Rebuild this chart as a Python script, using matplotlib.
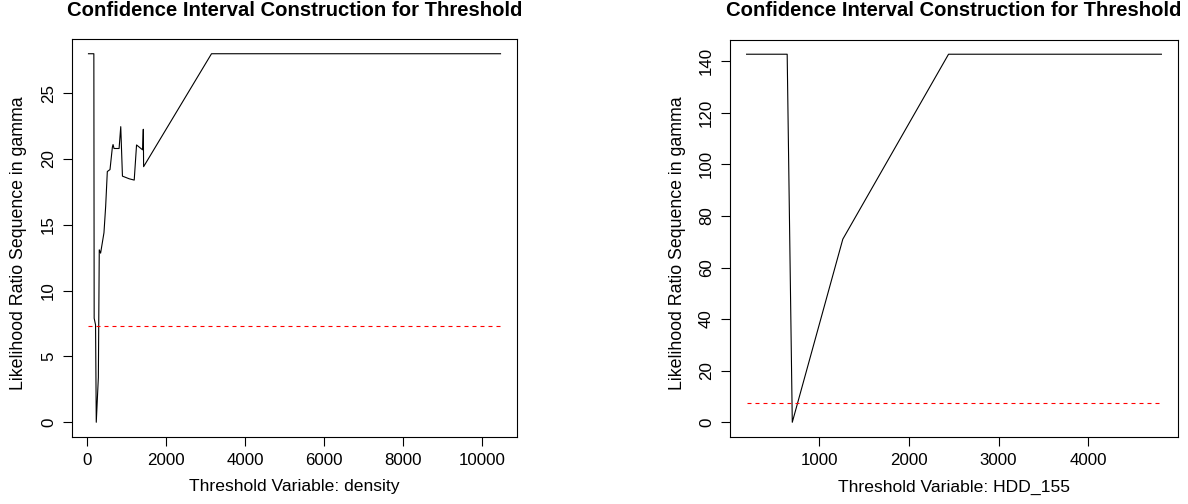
import matplotlib
matplotlib.use("Agg")
import matplotlib.pyplot as plt

# ---- data ----
left_x = [33, 169, 177, 212, 230, 283, 306, 340, 425, 468, 510, 578, 638, 655, 680,
          808, 850, 893, 1063, 1191, 1250, 1361, 1404, 1421, 1429, 3148, 10466]
left_y = [28.0, 28.0, 7.9, 7.4, 0.0, 3.4, 13.1, 12.85, 14.4, 16.4, 19.05, 19.2, 20.9, 21.1, 20.8,
          20.8, 22.46, 18.7, 18.5, 18.4, 21.07, 20.8, 20.7, 22.26, 19.42, 28.0, 28.0]
right_x = [188, 641, 698, 1262, 2442, 4818]
right_y = [142.7, 142.7, 0.0, 71.0, 142.7, 142.7]
crit_value = 7.35

title = "Confidence Interval Construction for Threshold"
ylabel = "Likelihood Ratio Sequence in gamma"
left_xlabel = "Threshold Variable: density"
right_xlabel = "Threshold Variable: HDD_155"
left_xticks = [0, 2000, 4000, 6000, 8000, 10000]
left_yticks = [0, 5, 10, 15, 20, 25]
right_xticks = [1000, 2000, 3000, 4000]
right_yticks = [0, 20, 40, 60, 80, 100, 120, 140]

plt.rcParams['font.family'] = ['Liberation Sans', 'DejaVu Sans']

W, H = 1188, 504
fig = plt.figure(figsize=(W / 100, H / 100), dpi=100)


def px_axes(l, t, r, b):
    return fig.add_axes([l / W, 1 - b / H, (r - l) / W, (b - t) / H])


def rpad(lo, hi):
    d = (hi - lo) * 0.04
    return lo - d, hi + d


def draw(ax, xs, ys, xticks, yticks, xl, box):
    l, t, r, b = box
    ax.plot(xs, ys, color='black', lw=0.8)
    ax.plot([min(xs), max(xs)], [crit_value, crit_value], color='#ff0000', lw=0.8,
            linestyle=(0, (3.6, 3.6)))
    ax.set_xlim(*rpad(min(xs), max(xs)))
    ax.set_ylim(*rpad(min(ys), max(ys)))
    ax.set_xticks(xticks)
    ax.set_yticks(yticks)
    ax.tick_params(axis='both', length=6.5, width=0.8, labelsize=12.2, color='black')
    ax.tick_params(axis='x', pad=5)
    ax.tick_params(axis='y', pad=5)
    for lab in ax.get_yticklabels():
        lab.set_rotation(90)
        lab.set_va('center')
    for s in ax.spines.values():
        s.set_linewidth(0.8)
        s.set_color('black')
    cx = (l + r) / 2 / W
    fig.text(cx, 1 - 11 / H, title, ha='center', va='center', fontsize=14.6, fontweight='bold')
    fig.text(cx, 1 - 487 / H, xl, ha='center', va='center', fontsize=12.6)
    fig.text((l - 53) / W, 1 - ((t + b) / 2 + 5) / H, ylabel, ha='center', va='center',
             rotation=90, fontsize=12.8)


axL = px_axes(72, 39, 517, 437)
draw(axL, left_x, left_y, left_xticks, left_yticks, left_xlabel, (72, 39, 517, 437))
axR = px_axes(730, 39.5, 1178, 437)
draw(axR, right_x, right_y, right_xticks, right_yticks, right_xlabel, (730, 39.5, 1178, 437))

fig.savefig("out.png", dpi=100)
